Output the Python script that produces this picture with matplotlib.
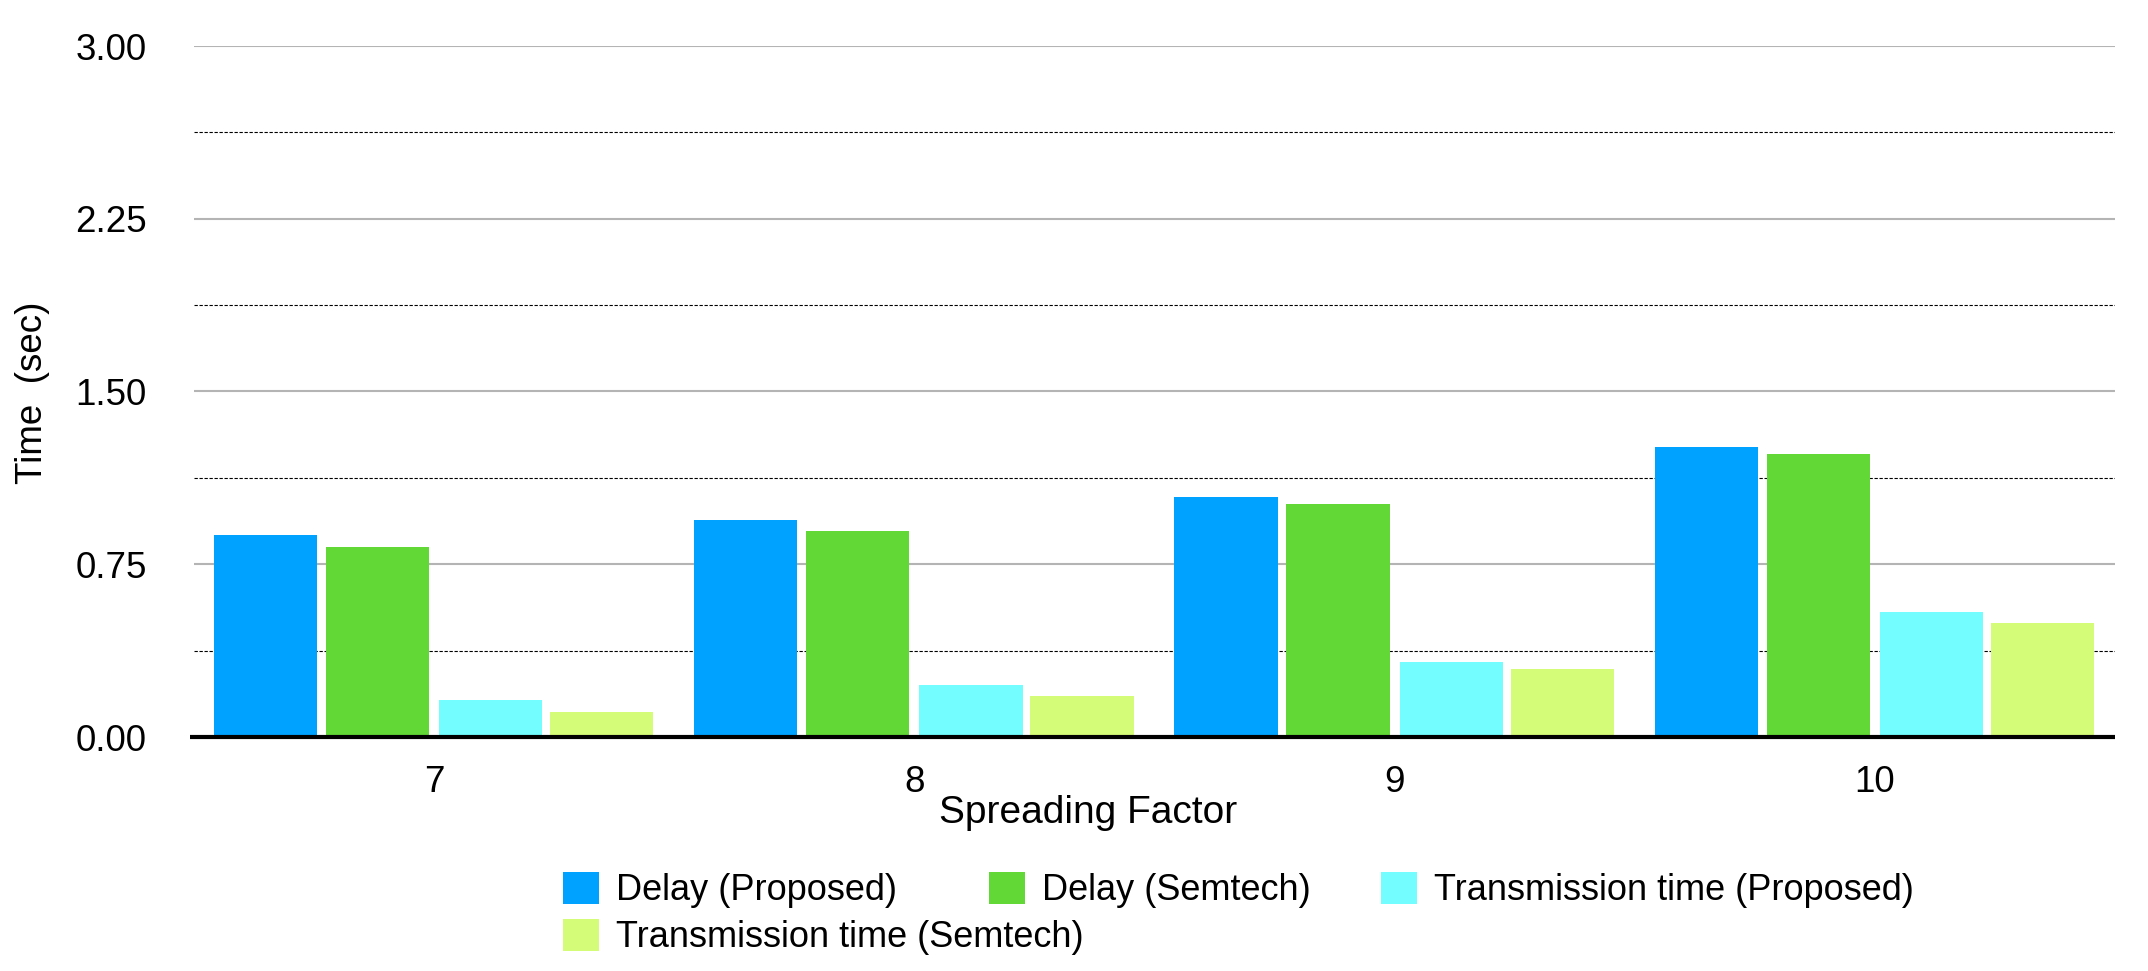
import numpy as np
import matplotlib
matplotlib.use("Agg")
import matplotlib.pyplot as plt

plt.rcParams['font.family'] = ['Liberation Sans', 'DejaVu Sans']

# data
sf_labels = ['7', '8', '9', '10']
delay_proposed = [0.877, 0.942, 1.042, 1.259]
delay_semtech = [0.825, 0.894, 1.012, 1.229]
tx_proposed = [0.161, 0.226, 0.326, 0.543]
tx_semtech = [0.109, 0.178, 0.295, 0.495]

series = [delay_proposed, delay_semtech, tx_proposed, tx_semtech]
names = ['Delay (Proposed)', 'Delay (Semtech)',
         'Transmission time (Proposed)', 'Transmission time (Semtech)']
colors = ['#00A2FF', '#61D836', '#73FDFF', '#D5FC79']
offsets = [-0.351, -0.118, 0.118, 0.349]
width = 0.215

W, H = 2148, 971
fig = plt.figure(figsize=(W / 100, H / 100), dpi=100)
ax = fig.add_axes([194 / W, 1 - 737 / H, (2115 - 194) / W, (737 - 46) / H])

x = np.arange(len(sf_labels))
bars = []
for vals, off, c, n in zip(series, offsets, colors, names):
    b = ax.bar(x + off, vals, width, color=c, label=n, zorder=2)
    bars.append(b)

ax.set_xlim(-0.5, len(sf_labels) - 0.5)
ax.set_ylim(0, 3.0)

# gridlines: solid grey majors, dotted black minors
for yv in [0.75, 1.5, 2.25, 3.0]:
    ax.axhline(yv, color='#b4b4b4', lw=1.5, zorder=1)
for yv in [0.375, 1.125, 1.875, 2.625]:
    ax.axhline(yv, color='black', lw=0.8, ls=(0, (3, 1.5)), zorder=1)
ax.plot([-0.508, len(sf_labels) - 0.5], [0, 0], color='black', lw=3,
        zorder=3, clip_on=False, solid_capstyle='butt')

for s in ax.spines.values():
    s.set_visible(False)

ax.set_yticks([0, 0.75, 1.5, 2.25, 3.0])
ax.set_yticklabels(['0.00', '0.75', '1.50', '2.25', '3.00'])
ax.set_xticks(x)
ax.set_xticklabels(sf_labels)
ax.tick_params(axis='y', length=0, pad=34, labelsize=26.5)
ax.tick_params(axis='x', length=0, pad=20, labelsize=26.5)

fig.text(1088 / W, 1 - 823 / H, 'Spreading Factor', fontsize=28,
         ha='center', va='baseline')
fig.text(33 / W, 1 - 393 / H, 'Time  (sec)', fontsize=26.5, rotation=90,
         ha='center', va='center')

# legend entries placed one by one (columns are not evenly spaced)
leg_x = [563, 989, 1381, 563]
leg_y = [890, 890, 890, 937]
for b, n, lx, ly in zip(bars, names, leg_x, leg_y):
    lg = fig.legend([b], [n], frameon=False, fontsize=26, borderpad=0,
                    borderaxespad=0, handlelength=1.0, handleheight=1.0,
                    handletextpad=0.48, loc='center left',
                    bbox_to_anchor=(lx / W, 1 - ly / H))

fig.savefig('out.png', dpi=100)
